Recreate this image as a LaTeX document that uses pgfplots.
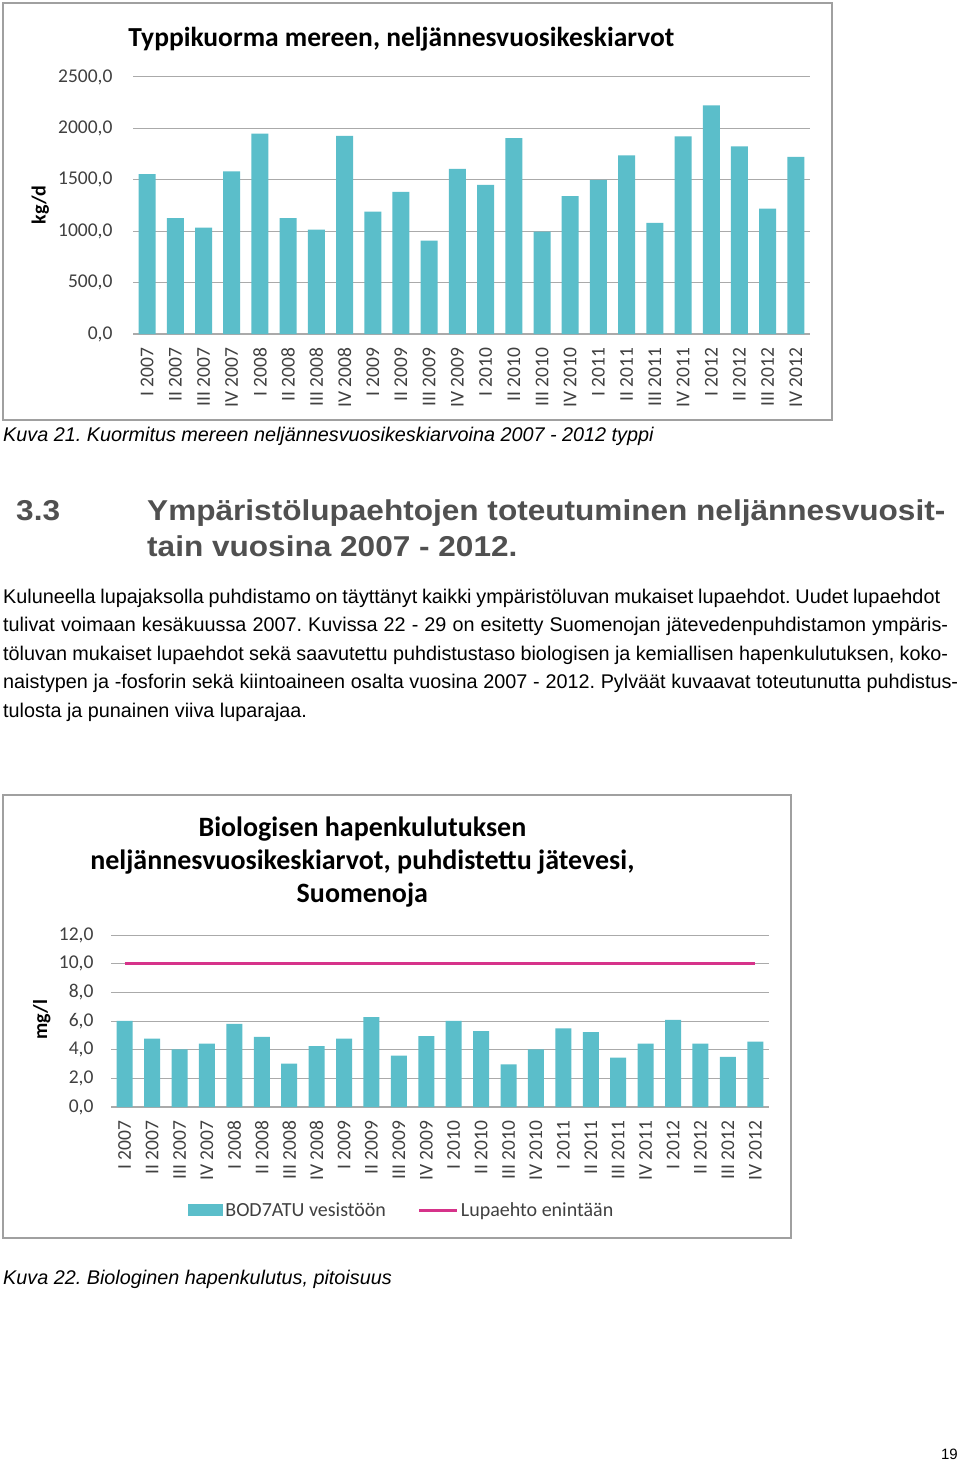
\documentclass[border=0pt]{standalone}
\usepackage{fontspec}
\setmainfont{Carlito}
\newfontfamily\pagefont{Liberation Sans}
\usepackage{pgfplots}
\pgfplotsset{compat=1.18}
\frenchspacing
\definecolor{barc}{RGB}{91,190,202}
\definecolor{limc}{RGB}{214,51,138}
\definecolor{tickc}{RGB}{64,64,64}
\definecolor{framec}{RGB}{160,160,160}
\definecolor{gridc}{RGB}{170,170,170}
\definecolor{headc}{RGB}{80,80,80}

\pgfplotstableread{
x typpi bod
0 1554 6.01
1 1126 4.78
2 1035 4.03
3 1581 4.43
4 1948 5.80
5 1126 4.89
6 1016 3.03
7 1928 4.24
8 1191 4.78
9 1383 6.27
10 909 3.59
11 1607 4.94
12 1451 6.01
13 1905 5.29
14 996 2.98
15 1340 4.03
16 1500 5.48
17 1737 5.22
18 1081 3.45
19 1922 4.43
20 2224 6.08
21 1824 4.43
22 1220 3.50
23 1724 4.57
}\datatable

\pgfplotsset{
  chartstyle/.style={
    scale only axis,
    axis lines*=left,
    y axis line style={draw=none},
    x axis line style={draw=gridc, line width=1.2pt},
    major tick length=0pt,
    ymajorgrids,
    grid style={draw=gridc, line width=1pt},
    xtick=data,
    xticklabels={I 2007,II 2007,III 2007,IV 2007,I 2008,II 2008,III 2008,IV 2008,I 2009,II 2009,III 2009,IV 2009,I 2010,II 2010,III 2010,IV 2010,I 2011,II 2011,III 2011,IV 2011,I 2012,II 2012,III 2012,IV 2012},
    x tick label style={rotate=90, anchor=east, font=\fontsize{19.5}{20}\selectfont, text=tickc},
    y tick label style={font=\fontsize{19.5}{20}\selectfont, text=tickc},
    yticklabel style={/pgf/number format/fixed, /pgf/number format/fixed zerofill, /pgf/number format/precision=1, /pgf/number format/use comma, /pgf/number format/1000 sep={}, /pgf/number format/assume math mode=true},
    xticklabel shift=10pt,
    xmin=-0.5, xmax=23.5, ymin=0,
    clip=false,
    ylabel style={font=\bfseries\fontsize{20}{22}\selectfont, text=black},
  }
}

\begin{document}
\begin{tikzpicture}
\path[fill=white, use as bounding box] (0,0) rectangle (960pt,-1463pt);
% frames
\draw[framec, line width=2pt] (3pt,-3pt) rectangle (832pt,-420pt);
\draw[framec, line width=2pt] (3pt,-795pt) rectangle (791pt,-1238pt);

% top chart
\begin{axis}[chartstyle,
  at={(133pt,-334pt)}, anchor=south west,
  width=677pt, height=257pt,
  ymax=2500, ytick={0,500,...,2500},
  yticklabel shift=17pt,
  title={Typpikuorma mereen, neljännesvuosikeskiarvot},
  title style={at={(axis description cs:0.3965,1.097)}, anchor=base, font=\bfseries\fontsize{27.5}{30}\selectfont},
  ylabel={kg/d},
  ylabel style={at={(axis description cs:-0.137,0.502)}, anchor=center},
]
\addplot[ybar, bar width=17pt, fill=barc, draw=none] table[x=x, y=typpi] {\datatable};
\end{axis}

% bottom chart
\begin{axis}[chartstyle,
  at={(111pt,-1107pt)}, anchor=south west,
  width=658pt, height=172pt,
  ymax=12, ytick={0,2,...,12},
  yticklabel shift=14pt,
  title={Biologisen hapenkulutuksen\\neljännesvuosikeskiarvot, puhdistettu jätevesi,\\Suomenoja},
  title style={at={(axis description cs:0.382,1.389)}, anchor=center, align=center, font=\bfseries\fontsize{28}{33}\selectfont},
  ylabel={mg/l},
  ylabel style={at={(axis description cs:-0.105,0.506)}, anchor=center},
  legend columns=2,
  legend style={draw=none, fill=none, at={(axis description cs:0.442,-0.599)}, anchor=center, font=\fontsize{20}{22}\selectfont, text=tickc, /tikz/every even column/.append style={column sep=30pt}},
]
\addplot[ybar, bar width=16pt, fill=barc, draw=none, legend image code/.code={\fill[barc] (0pt,-6pt) rectangle (35pt,6pt);}] table[x=x, y=bod] {\datatable};
\addlegendentry{BOD7ATU vesistöön}
\addplot[limc, line width=3pt, legend image code/.code={\draw[limc, line width=3pt] (0pt,0pt) -- (38pt,0pt);}] coordinates {(0,10) (23,10)};
\addlegendentry{Lupaehto enintään}
\end{axis}

% page text
\node[anchor=base west, inner sep=0pt, font=\pagefont\itshape\fontsize{19.8}{22}\selectfont] at (3pt,-441pt) {Kuva 21. Kuormitus mereen neljännesvuosikeskiarvoina 2007 - 2012 typpi};
\node[anchor=base west, inner sep=0pt, text=headc, font=\pagefont\bfseries\fontsize{28.7}{30}\selectfont] at (16pt,-520pt) {\scalebox{1.1}[1]{3.3}};
\node[anchor=base west, inner sep=0pt, text=headc, font=\pagefont\bfseries\fontsize{28.7}{30}\selectfont] at (147pt,-520pt) {\scalebox{1.1}[1]{Ympäristölupaehtojen toteutuminen neljännesvuosit-}};
\node[anchor=base west, inner sep=0pt, text=headc, font=\pagefont\bfseries\fontsize{28.7}{30}\selectfont] at (147pt,-556pt) {\scalebox{1.1}[1]{tain vuosina 2007 - 2012.}};
\begin{scope}[every node/.style={anchor=base west, inner sep=0pt, font=\pagefont\fontsize{19.8}{22}\selectfont}]
\node at (3pt,-603pt) {\makebox[937pt][s]{Kuluneella lupajaksolla puhdistamo on täyttänyt kaikki ympäristöluvan mukaiset lupaehdot. Uudet lupaehdot}};
\node at (3pt,-631.5pt) {\makebox[945pt][s]{tulivat voimaan kesäkuussa 2007. Kuvissa 22 - 29 on esitetty Suomenojan jätevedenpuhdistamon ympäris-}};
\node at (3pt,-660pt) {\makebox[945pt][s]{töluvan mukaiset lupaehdot sekä saavutettu puhdistustaso biologisen ja kemiallisen hapenkulutuksen, koko-}};
\node at (3pt,-688.5pt) {\makebox[955pt][s]{naistypen ja -fosforin sekä kiintoaineen osalta vuosina 2007 - 2012. Pylväät kuvaavat toteutunutta puhdistus-}};
\node at (3pt,-717pt) {tulosta ja punainen viiva luparajaa.};
\end{scope}
\node[anchor=base west, inner sep=0pt, font=\pagefont\itshape\fontsize{19.8}{22}\selectfont] at (3pt,-1284pt) {Kuva 22. Biologinen hapenkulutus, pitoisuus};
\node[anchor=base east, inner sep=0pt, font=\pagefont\fontsize{15}{18}\selectfont] at (958pt,-1459pt) {19};
\end{tikzpicture}
\end{document}
